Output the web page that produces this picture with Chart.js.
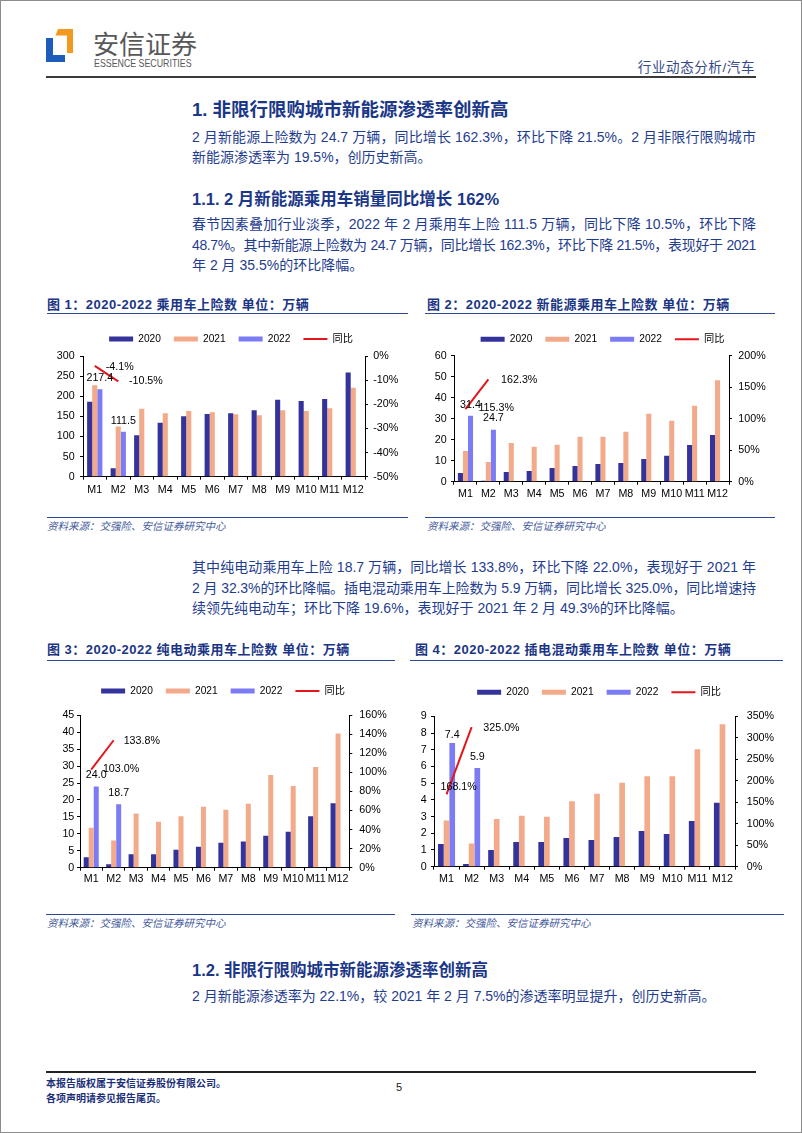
<!DOCTYPE html>
<html lang="zh-CN">
<head>
<meta charset="utf-8">
<title>行业动态分析/汽车</title>
<script src="https://cdn.jsdelivr.net/npm/chart.js@4.4.1/dist/chart.umd.min.js"></script>
<style>
html, body { margin: 0; padding: 0; background: #fff; }
#page { position: relative; width: 802px; height: 1133px; overflow: hidden;
        font-family: "Liberation Sans", "Noto Sans CJK SC", sans-serif; color: #1f3d8e; }
#frame { position: absolute; left: 0; top: 0; width: 800px; height: 1131px; border: 1px solid #8c8c8c; }
.abs { position: absolute; white-space: nowrap; }
.ln { position: absolute; left: 192px; width: 564px; height: 20px; line-height: 20px; font-size: 14px; white-space: nowrap; }
.full { text-align: justify; text-align-last: justify; }
.h1 { font-size: 18.5px; font-weight: bold; line-height: 24px; color: #1b3787; left: 192px; }
.h2 { font-size: 16.5px; font-weight: bold; line-height: 24px; color: #1b3787; left: 192px; }
.ttl { font-size: 13px; font-weight: bold; line-height: 16px; letter-spacing: 0.5px; color: #1b3585; }
.src { font-size: 10.5px; font-style: italic; line-height: 14px; color: #43599c; }
.rule { position: absolute; height: 0; border-top: 1.5px solid #2d4896; }
canvas { position: absolute; }
.foot { font-size: 10px; font-weight: bold; line-height: 14px; color: #1c2f7a; left: 46px; }
</style>
</head>
<body>
<div id="page">
  <div id="frame"></div>

  <svg class="abs" style="left:0;top:0" width="120" height="80">
    <path d="M58 29 H73 V53 H67 V35.5 H55.5 Z" fill="#f39a1e"/>
    <path d="M46 38 H53 V55 H65 V62 H46 Z" fill="#1d5cb8"/>
  </svg>
  <div class="abs" style="left:93px;top:28px;font-size:26px;line-height:30px;color:#585858;font-family:'Noto Sans CJK SC',sans-serif;">安信证券</div>
  <div class="abs" style="left:94px;top:57px;font-size:10.5px;line-height:13px;color:#585858;transform:scaleX(0.84);transform-origin:left;">ESSENCE SECURITIES</div>
  <div class="abs" style="right:47px;top:59px;font-size:13.5px;line-height:18px;letter-spacing:0.6px;color:#34498a;">行业动态分析/汽车</div>
  <div class="rule" style="left:46px;top:76px;width:710px;border-top:2px solid #3a3a3a;"></div>

  <div class="abs h1" style="top:98px;">1. 非限行限购城市新能源渗透率创新高</div>
  <div class="ln full" style="top:127px;">2 月新能源上险数为 24.7 万辆，同比增长 162.3%，环比下降 21.5%。2 月非限行限购城市</div>
  <div class="ln" style="top:147px;">新能源渗透率为 19.5%，创历史新高。</div>

  <div class="abs h2" style="top:187px;">1.1. 2 月新能源乘用车销量同比增长 162%</div>
  <div class="ln full" style="top:214px;">春节因素叠加行业淡季，2022 年 2 月乘用车上险 111.5 万辆，同比下降 10.5%，环比下降</div>
  <div class="ln full" style="top:234.5px;">48.7%。其中新能源上险数为 24.7 万辆，同比增长 162.3%，环比下降 21.5%，表现好于 2021</div>
  <div class="ln" style="top:255px;">年 2 月 35.5%的环比降幅。</div>

  <div class="abs ttl" style="left:47px;top:297px;">图 1：2020-2022 乘用车上险数 单位：万辆</div>
  <div class="rule" style="left:47px;top:312.5px;width:361px;"></div>
  <div class="abs ttl" style="left:427px;top:297px;">图 2：2020-2022 新能源乘用车上险数 单位：万辆</div>
  <div class="rule" style="left:425px;top:312.5px;width:350px;"></div>

  <canvas id="chart1"></canvas>
  <canvas id="chart2"></canvas>

  <div class="rule" style="left:47px;top:517px;width:361px;"></div>
  <div class="abs src" style="left:47px;top:519px;">资料来源：交强险、安信证券研究中心</div>
  <div class="rule" style="left:425px;top:517px;width:350px;"></div>
  <div class="abs src" style="left:427px;top:519px;">资料来源：交强险、安信证券研究中心</div>

  <div class="ln full" style="top:557px;">其中纯电动乘用车上险 18.7 万辆，同比增长 133.8%，环比下降 22.0%，表现好于 2021 年</div>
  <div class="ln full" style="top:577.5px;">2 月 32.3%的环比降幅。插电混动乘用车上险数为 5.9 万辆，同比增长 325.0%，同比增速持</div>
  <div class="ln" style="top:598px;">续领先纯电动车；环比下降 19.6%，表现好于 2021 年 2 月 49.3%的环比降幅。</div>

  <div class="abs ttl" style="left:47px;top:642px;">图 3：2020-2022 纯电动乘用车上险数 单位：万辆</div>
  <div class="rule" style="left:47px;top:659.5px;width:348px;"></div>
  <div class="abs ttl" style="left:415px;top:642px;">图 4：2020-2022 插电混动乘用车上险数 单位：万辆</div>
  <div class="rule" style="left:410px;top:659.5px;width:373px;"></div>

  <canvas id="chart3"></canvas>
  <canvas id="chart4"></canvas>

  <div class="rule" style="left:46px;top:913.5px;width:349px;"></div>
  <div class="abs src" style="left:47px;top:916px;">资料来源：交强险、安信证券研究中心</div>
  <div class="rule" style="left:411px;top:913.5px;width:373px;"></div>
  <div class="abs src" style="left:412px;top:916px;">资料来源：交强险、安信证券研究中心</div>

  <div class="abs h2" style="top:958px;">1.2. 非限行限购城市新能源渗透率创新高</div>
  <div class="ln" style="top:985.5px;">2 月新能源渗透率为 22.1%，较 2021 年 2 月 7.5%的渗透率明显提升，创历史新高。</div>

  <div class="rule" style="left:46px;top:1071px;width:710px;border-top:2px solid #222;"></div>
  <div class="abs foot" style="top:1077px;">本报告版权属于安信证券股份有限公司。</div>
  <div class="abs foot" style="top:1092px;">各项声明请参见报告尾页。</div>
  <div class="abs" style="left:396px;top:1080px;font-size:11px;line-height:14px;color:#222;">5</div>
</div>

<script>
// categories
const months = ['M1', 'M2', 'M3', 'M4', 'M5', 'M6', 'M7', 'M8', 'M9', 'M10', 'M11', 'M12'];
const seriesNames = ['2020', '2021', '2022', '同比'];

// 图1 乘用车上险数（万辆）
const pv2020 = [186, 21, 103, 134, 150, 156, 158, 165, 191, 188, 193, 259];
const pv2021 = [227, 124.6, 169, 158, 163, 160, 155, 153, 165, 163, 170, 221];
const pv2022 = [217.4, 111.5];
const pvYoy  = [-4.1, -10.5];
const pvAxisL = [0, 300, 50];
const pvAxisR = [-50, 0, 10];

// 图2 新能源乘用车上险数
const nev2020 = [4.1, 0.5, 4.6, 5.1, 6.5, 7.5, 8.4, 8.9, 10.8, 12.4, 17.5, 22.2];
const nev2021 = [14.6, 9.4, 18.4, 16.7, 17.6, 21.4, 21.4, 23.8, 32.4, 29.0, 36.2, 48.3];
const nev2022 = [31.4, 24.7];
const nevYoy  = [115.3, 162.3];
const nevAxisL = [0, 60, 10];
const nevAxisR = [0, 200, 50];

// 图3 纯电动乘用车上险数
const bev2020 = [3.1, 1.0, 4.0, 4.0, 5.3, 6.2, 7.4, 7.7, 9.4, 10.6, 15.2, 19.0];
const bev2021 = [11.8, 8.0, 16.0, 13.6, 15.2, 18.0, 17.1, 18.9, 27.4, 24.1, 29.7, 39.6];
const bev2022 = [24.0, 18.7];
const bevYoy  = [103.0, 133.8];
const bevAxisL = [0, 45, 5];
const bevAxisR = [0, 160, 20];

// 图4 插电混动乘用车上险数
const phev2020 = [1.36, 0.16, 1.0, 1.48, 1.48, 1.72, 1.6, 1.78, 2.14, 1.96, 2.73, 3.83];
const phev2021 = [2.76, 1.39, 2.85, 3.05, 2.99, 3.91, 4.37, 5.03, 5.41, 5.41, 7.03, 8.52];
const phev2022 = [7.4, 5.9];
const phevYoy  = [168.1, 325.0];
const phevAxisL = [0, 9, 1];
const phevAxisR = [0, 350, 50];

const colors = ['#33339b', '#f2aa8b', '#7b7bf6', '#e3161c'];
const TICK = 10.7, LEG_FONT = 10.2, LEG_PAD = 13;
const LEG_H = LEG_FONT + LEG_PAD + 10;

Chart.defaults.font.family = '"Liberation Sans", "Noto Sans CJK SC", sans-serif';
Chart.defaults.color = '#000';

// empty box between legend and plot
function spacer(h) {
  return {
    id: 'spacer',
    beforeInit(chart) {
      Chart.layouts.addBox(chart, {
        position: 'top', weight: 100, fullSize: true, options: {},
        width: 0, height: 0, left: 0, top: 0, right: 0, bottom: 0,
        isHorizontal() { return true; },
        update(maxWidth) { this.width = maxWidth; this.height = h; return this.height; },
        draw() {}
      });
    }
  };
}

const valueLabels = {
  id: 'valueLabels',
  afterDatasetsDraw(chart, args, opts) {
    const ctx = chart.ctx;
    ctx.save();
    ctx.font = TICK + 'px "Liberation Sans", sans-serif';
    ctx.fillStyle = '#000';
    ctx.textBaseline = 'middle';
    chart.data.datasets.forEach((ds, di) => {
      if (!ds.showLabels) return;
      chart.getDatasetMeta(di).data.forEach((el, i) => {
        const v = ds.data[i];
        if (v == null) return;
        if (ds.type === 'line') {
          const off = opts.lineOff[i] || [11, 0];
          ctx.textAlign = 'left';
          ctx.fillText(v.toFixed(1) + '%', el.x + off[0], el.y + off[1]);
        } else {
          ctx.textAlign = 'center';
          ctx.fillText(v.toFixed(1), el.x, el.y + (opts.barDy[i] || -11));
        }
      });
    });
    ctx.restore();
  }
};

function drawChart(id, box, s, axL, axR) {
  const canvas = document.getElementById(id);
  const W = Math.round(box.right - box.left), H = Math.round(box.bottom - box.top);
  canvas.width = W; canvas.height = H;
  canvas.style.left = box.left + 'px';
  canvas.style.top = box.top + 'px';
  const padTop = box.legendY - box.top - LEG_PAD - LEG_FONT / 2;
  const gap = box.plotTop - box.top - padTop - LEG_H;
  const tickFont = { size: TICK };
  const gridOpt = { drawOnChartArea: false, tickLength: 3, color: '#000' };

  const bars = [s[0], s[1], s[2]].map((d, i) => ({
    type: 'bar', label: seriesNames[i], data: d, backgroundColor: colors[i],
    borderWidth: 0, yAxisID: 'y', order: 1,
    categoryPercentage: box.catPct, barPercentage: 1, showLabels: i === 2
  }));
  const line = {
    type: 'line', label: seriesNames[3], data: s[3], yAxisID: 'y1', order: 0,
    borderColor: colors[3], backgroundColor: colors[3], borderWidth: 2,
    pointRadius: 0, fill: false, tension: 0, showLabels: true
  };

  new Chart(canvas, {
    data: { labels: months, datasets: bars.concat([line]) },
    plugins: [spacer(gap), valueLabels],
    options: {
      responsive: false, animation: false, events: [],
      layout: { padding: { top: padTop, left: 0, right: 0, bottom: 0 } },
      plugins: {
        tooltip: { enabled: false },
        valueLabels: { lineOff: box.lineOff, barDy: box.barDy },
        legend: {
          position: 'top',
          labels: {
            font: { size: LEG_FONT }, color: '#000', padding: LEG_PAD,
            usePointStyle: true, pointStyleWidth: 24, boxHeight: 5,
            generateLabels(chart) {
              return Chart.defaults.plugins.legend.labels.generateLabels(chart)
                .sort((a, b) => a.datasetIndex - b.datasetIndex)
                .map(it => chart.data.datasets[it.datasetIndex].type === 'line'
                  ? Object.assign(it, { pointStyle: 'line', strokeStyle: colors[3], lineWidth: 2 })
                  : Object.assign(it, { pointStyle: 'rect', lineWidth: 0 }));
            }
          }
        }
      },
      scales: {
        x: {
          type: 'category', offset: true,
          grid: Object.assign({ offset: true }, gridOpt),
          border: { color: '#000' },
          ticks: { font: tickFont, color: '#000', padding: box.xPad, maxRotation: 0, autoSkip: false },
          afterFit: sc => { sc.height = box.bottom - box.plotBottom; }
        },
        y: {
          position: 'left', min: axL[0], max: axL[1],
          grid: gridOpt, border: { color: '#000' },
          ticks: { stepSize: axL[2], font: tickFont, color: '#000', padding: box.lPad },
          afterFit: sc => { sc.width = box.plotLeft - box.left; }
        },
        y1: {
          position: 'right', min: axR[0], max: axR[1],
          grid: gridOpt, border: { color: '#000' },
          ticks: { stepSize: axR[2], font: tickFont, color: '#000', padding: box.rPad, callback: v => v + '%' },
          afterFit: sc => { sc.width = box.left + W - box.plotRight; }
        }
      }
    }
  });
}

drawChart('chart1',
  { left: 40, right: 422, top: 320, bottom: 501, legendY: 339, plotTop: 356, plotBottom: 476.7,
    plotLeft: 83, plotRight: 365, lPad: 5.4, rPad: 5.3, xPad: 3.9, catPct: 0.65,
    lineOff: [[11, 1], [10.7, 0]], barDy: [-11, -11] },
  [pv2020, pv2021, pv2022, pvYoy], pvAxisL, pvAxisR);

drawChart('chart2',
  { left: 415, right: 790, top: 320, bottom: 502, legendY: 339.3, plotTop: 355.7, plotBottom: 481.7,
    plotLeft: 454, plotRight: 729, lPad: 4.3, rPad: 6.3, xPad: 2.9, catPct: 0.66,
    lineOff: [[13, -1], [12.7, 1]], barDy: [-11, -11.7] },
  [nev2020, nev2021, nev2022, nevYoy], nevAxisL, nevAxisR);

drawChart('chart3',
  { left: 40, right: 406, top: 672, bottom: 892, legendY: 691, plotTop: 715.3, plotBottom: 867.7,
    plotLeft: 80, plotRight: 349.3, lPad: 2.7, rPad: 7, xPad: 2.2, catPct: 0.67,
    lineOff: [[11.7, -1], [10, 1]], barDy: [-11.7, -11] },
  [bev2020, bev2021, bev2022, bevYoy], bevAxisL, bevAxisR);

drawChart('chart4',
  { left: 410, right: 788, top: 673, bottom: 892, legendY: 692.3, plotTop: 716.3, plotBottom: 866.7,
    plotLeft: 434, plotRight: 735, lPad: 4.3, rPad: 8.7, xPad: 3.2, catPct: 0.68,
    lineOff: [[-6, -7], [11.7, 1]], barDy: [-8.3, -11] },
  [phev2020, phev2021, phev2022, phevYoy], phevAxisL, phevAxisR);

// squeeze justified lines that are a little too long
document.querySelectorAll('.full').forEach(el => {
  const r = document.createRange();
  r.selectNodeContents(el);
  const w = r.getBoundingClientRect().width;
  if (w > el.clientWidth) {
    const n = el.textContent.length;
    el.style.letterSpacing = ((el.clientWidth - w) / n - 0.05) + 'px';
  }
});
</script>
</body>
</html>
